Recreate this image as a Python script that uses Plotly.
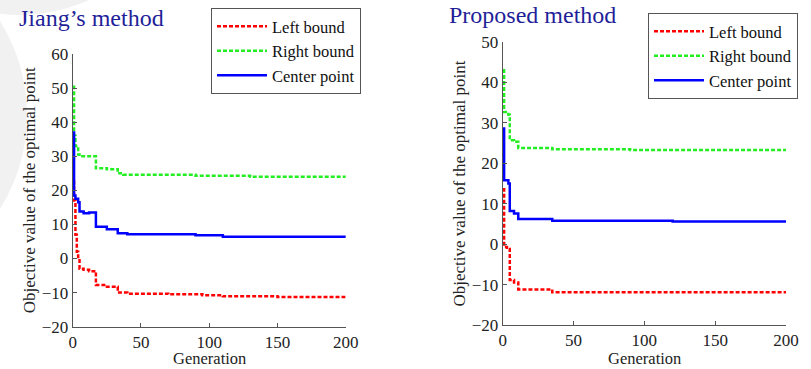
import plotly.graph_objects as go

# ---------------- data ----------------
series_names = ["Left bound", "Right bound", "Center point"]
panel_titles = ["Jiang\u2019s method", "Proposed method"]
x_title = "Generation"
y_title = "Objective value of the optimal point"
x_ticks = [0, 50, 100, 150, 200]
y_ticks_jiang = [-20, -10, 0, 10, 20, 30, 40, 50, 60]
y_ticks_prop = [-20, -10, 0, 10, 20, 30, 40, 50]

# Jiang's method
jiang_left_gen = [0, 1, 2, 3, 4, 5, 8, 12, 17, 24, 33, 40, 70, 95, 110, 150, 200]
jiang_left_obj = [22.5, 17, 7, 2, 0, -3, -3.3, -3.7, -7.8, -8.3, -10, -10.3, -10.5, -10.8, -11.1, -11.3, -11.3]
jiang_right_gen = [0, 1, 2, 4, 5, 17, 25, 33, 37, 90, 130, 200]
jiang_right_obj = [50.4, 36, 33, 30.5, 30, 26.5, 26.2, 25, 24.6, 24.3, 24.0, 23.8]
jiang_center_gen = [0, 1, 2, 4, 5, 8, 12, 17, 25, 33, 40, 90, 110, 200]
jiang_center_obj = [37, 18.5, 17.5, 16.5, 13.8, 13.3, 13.5, 9.3, 8.6, 7.4, 7.1, 6.8, 6.4, 6.2]

# Proposed method
prop_left_gen = [0, 1, 3, 5, 8, 11, 35, 200]
prop_left_obj = [13.6, -0.7, -1.2, -8.9, -9.5, -11.2, -11.9, -12.2]
prop_right_gen = [0, 1, 4, 5, 8, 11, 35, 90, 200]
prop_right_obj = [43, 32.7, 32.0, 25.7, 25.3, 23.8, 23.5, 23.3, 23.1]
prop_center_gen = [0, 1, 4, 5, 8, 11, 35, 120, 200]
prop_center_obj = [28.6, 15.8, 15.0, 8.2, 7.6, 6.2, 5.8, 5.6, 5.5]

# ---------------- figure ----------------
W, H = 811, 369
FONT = "Liberation Serif, Times New Roman, serif"
AX = "#555555"
TXT = "#222222"

def fx(p):
    return p / W

def fy(p):
    return 1 - p / H

styles = [
    dict(color="#ff0000", width=2.5, dash="4px,2px"),
    dict(color="#22ee22", width=2.5, dash="4px,2px"),
    dict(color="#0000ff", width=2.5),
]

fig = go.Figure()
panels = [
    ("x", "y", "legend", [(jiang_left_gen, jiang_left_obj), (jiang_right_gen, jiang_right_obj), (jiang_center_gen, jiang_center_obj)]),
    ("x2", "y2", "legend2", [(prop_left_gen, prop_left_obj), (prop_right_gen, prop_right_obj), (prop_center_gen, prop_center_obj)]),
]
for xa, ya, lg, data in panels:
    for name, st, (g, v) in zip(series_names, styles, data):
        fig.add_trace(go.Scatter(
            x=g, y=v, mode="lines", name=name,
            line=dict(shape="hv", **st),
            xaxis=xa, yaxis=ya, legend=lg,
        ))

def axis(domain, rng, ticks, title, anchor, standoff):
    return dict(
        domain=domain, range=rng, tickvals=ticks, anchor=anchor,
        showline=True, linecolor=AX, linewidth=1, ticks="inside", ticklen=4,
        tickcolor=AX, showgrid=False, zeroline=False, automargin=True,
        tickfont=dict(family=FONT, size=17, color=TXT),
        title=dict(text=title, standoff=standoff, font=dict(family=FONT, size=17, color=TXT)),
    )

legend_common = dict(xanchor="left", yanchor="top", bgcolor="white",
                     bordercolor=AX, borderwidth=1, tracegroupgap=0, itemwidth=50,
                     font=dict(family=FONT, size=16.5, color="#111"))

def note(text, x, y, size, color, angle=0, xanchor="center"):
    return dict(text=text, xref="paper", yref="paper", x=fx(x), y=fy(y),
                xanchor=xanchor, yanchor="middle", showarrow=False, textangle=angle,
                font=dict(family=FONT, size=size, color=color))

fig.update_layout(
    width=W, height=H,
    margin=dict(l=0, r=0, t=0, b=0, autoexpand=False),
    paper_bgcolor="white", plot_bgcolor="rgba(0,0,0,0)",
    showlegend=True,
    xaxis=axis([fx(72.7), fx(345.7)], [0, 200], x_ticks, None, "y", 4),
    yaxis=axis([fy(326.7), fy(54)], [-20, 60], y_ticks_jiang, y_title, "x", 1),
    xaxis2=axis([fx(502.7), fx(786)], [0, 200], x_ticks, None, "y2", 4),
    yaxis2=axis([fy(325), fy(42)], [-20, 50], y_ticks_prop, y_title, "x2", 1),
    legend=dict(x=fx(211), y=fy(8), **legend_common),
    legend2=dict(x=fx(648), y=fy(13), **legend_common),
    annotations=[
        note(panel_titles[0], 17, 18, 24, "#1f1f99", xanchor="left"),
        note(panel_titles[1], 447, 15, 24, "#1f1f99", xanchor="left"),
        note(x_title, 209, 358.5, 16.5, TXT),
        note(x_title, 644, 358.5, 16.5, TXT),
    ],
)

# faint decorative background arcs on the left edge
def circle(cx, cy, r):
    return dict(type="circle", xref="paper", yref="paper", layer="below",
                x0=fx(cx - r), x1=fx(cx + r), y0=fy(cy + r), y1=fy(cy - r),
                fillcolor="#f1f1f1", line=dict(width=0))

fig.update_layout(shapes=[circle(-150, 115, 177), circle(20, -150, 165)])

fig.write_html("out.html", config={"displayModeBar": False},
               post_script="document.body.style.margin='0';")
